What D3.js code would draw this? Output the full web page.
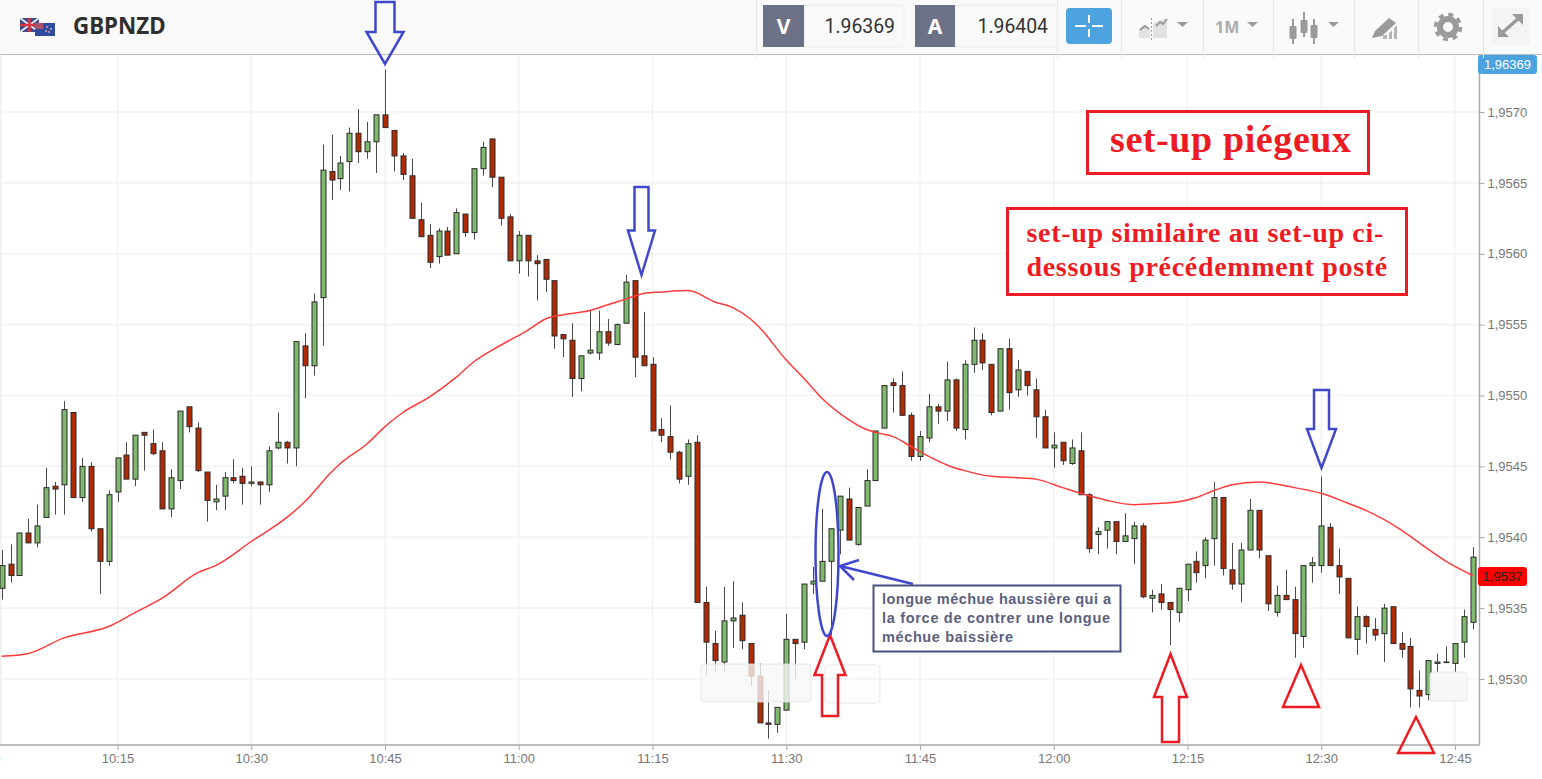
<!DOCTYPE html>
<html><head><meta charset="utf-8">
<script src="https://cdn.jsdelivr.net/npm/d3@7"></script>
<style>html,body{margin:0;padding:0;background:#fff;overflow:hidden}svg{display:block}</style>
</head><body><svg id="c" width="1542" height="779"></svg>
<script>
// Quotes in points (price x 100000), one candle per minute starting at 10:02
const opens=[195364,195381,195373,195403,195396,195414,195436,195437,195488,195428,195450,195406,195383,195432,195458,195441,195474,195466,195461,195420,195440,195492,195477,195446,195425,195429,195442,195443,195438,195439,195437,195463,195467,195463,195535,195521,195569,195658,195653,195665,195685,195672,195679,195698,195687,195669,195655,195624,195613,195598,195616,195600,195628,195615,195660,195681,195654,195626,195595,195613,195595,195596,195581,195543,195539,195512,195530,195530,195545,195536,195551,195581,195528,195522,195476,195471,195460,195443,195467,195354,195325,195312,195341,195345,195325,195302,195269,195268,195278,195328,195326,195367,195369,195383,195405,195427,195395,195422,195440,195477,195509,195507,195486,195457,195470,195492,195489,195511,195476,195522,195539,195522,195489,195533,195504,195517,195504,195485,195463,195467,195452,195461,195430,195402,195405,195411,195397,195399,195408,195357,195360,195354,195347,195363,195383,195380,195399,195428,195377,195367,195391,195419,195387,195347,195359,195356,195330,195380,195380,195407,195380,195371,195328,195344,195335,195332,195351,195325,195323,195292,195289,195311,195312,195311,195326,195340];
const highs=[195391,195395,195403,195413,195423,195449,195439,195496,195488,195456,195453,195406,195433,195456,195467,195472,195474,195476,195467,195448,195489,195492,195481,195446,195437,195446,195455,195449,195450,195439,195464,195488,195468,195538,195544,195572,195677,195684,195669,195689,195702,195693,195698,195730,195687,195671,195667,195636,195621,195618,195619,195632,195628,195660,195679,195681,195654,195628,195616,195613,195599,195596,195581,195543,195551,195528,195560,195560,195554,195551,195585,195581,195559,195527,195484,195493,195461,195469,195472,195365,195334,195365,195369,195354,195325,195311,195292,195280,195346,195328,195367,195379,195420,195406,195429,195435,195421,195448,195475,195507,195512,195517,195488,195475,195501,195494,195524,195512,195525,195548,195544,195522,195533,195540,195525,195517,195512,195490,195474,195467,195469,195474,195431,195407,195411,195411,195417,195411,195410,195363,195367,195354,195364,195381,195390,195400,195439,195428,195396,195396,195427,195419,195387,195366,195377,195365,195380,195386,195443,195410,195392,195371,195351,195345,195343,195353,195351,195333,195329,195306,195313,195318,195323,195325,195349,195393];
const lows=[195356,195368,195373,195396,195393,195414,195416,195416,195428,195425,195404,195360,195380,195425,195441,195436,195447,195458,195420,195414,195434,195474,195446,195411,195419,195419,195438,195423,195436,195423,195432,195462,195452,195450,195498,195514,195535,195638,195645,195644,195664,195667,195657,195689,195658,195652,195625,195612,195590,195593,195599,195600,195612,195610,195655,195647,195620,195595,195586,195584,195567,195573,195533,195527,195499,195503,195529,195525,195535,195536,195551,195513,195521,195475,195467,195455,195438,195437,195354,195302,195305,195305,195322,195321,195295,195269,195258,195262,195278,195300,195321,195360,195369,195331,195388,195398,195394,195422,195440,195477,195488,195486,195454,195454,195467,195480,195482,195475,195469,195516,195518,195486,195489,195490,195499,195500,195470,195463,195449,195451,195451,195430,195389,195388,195392,195388,195397,195381,195357,195347,195349,195324,195340,195355,195368,195371,195380,195373,195363,195354,195391,195385,195348,195344,195356,195315,195322,195368,195375,195380,195360,195329,195317,195325,195327,195312,195325,195315,195280,195280,195285,195305,195312,195305,195315,195335];
const closes=[195380,195373,195403,195396,195408,195435,195434,195490,195428,195450,195406,195383,195430,195456,195441,195472,195472,195459,195420,195442,195489,195478,195447,195426,195427,195442,195440,195438,195439,195437,195461,195467,195463,195538,195521,195566,195659,195652,195664,195685,195672,195679,195698,195689,195669,195656,195625,195612,195594,195616,195599,195629,195615,195660,195675,195654,195625,195595,195613,195595,195593,195582,195542,195540,195512,195528,195532,195545,195537,195550,195580,195527,195521,195475,195472,195460,195441,195466,195354,195326,195313,195341,195343,195327,195302,195269,195268,195280,195328,195325,195367,195369,195383,195406,195429,195398,195421,195440,195475,195507,195507,195486,195457,195471,195492,195489,195511,195477,195522,195539,195523,195488,195533,195502,195518,195507,195485,195463,195465,195454,195463,195430,195392,195404,195411,195397,195401,195408,195358,195359,195354,195349,195364,195381,195375,195398,195428,195378,195367,195391,195419,195391,195353,195359,195356,195332,195380,195382,195408,195380,195372,195329,195344,195337,195331,195350,195325,195321,195293,195288,195313,195312,195312,195325,195344,195386];
// Moving average, read at selected candles
const maMinutes=[0,3,7,12,15,18,22,24,28,32,34,37,38,41,43,45,48,51,53,55,57,59,61,63,66,68,70,72,74,77,80,82,84,85,88,90,92,95,97,98,100,102,104,106,108,111,114,116,119,121,124,127,130,132,134,136,138,141,145,148,151,153,157,159,162,165];
const maPoints=[195316,195318,195329,195337,195347,195357,195375,195380,195397,195414,195425,195446,195452,195466,195478,195488,195499,195513,195524,195532,195539,195546,195554,195557,195560,195564,195568,195572,195573,195574,195566,195562,195554,195548,195525,195512,195498,195483,195476,195474,195471,195464,195457,195451,195447,195443,195442,195441,195435,195431,195426,195423,195424,195425,195428,195433,195437,195439,195435,195431,195424,195419,195405,195396,195383,195373];
const priceTicks=[1.9530,1.9535,1.9540,1.9545,1.9550,1.9555,1.9560,1.9565,1.9570];
const timeTicks=["10:00","10:15","10:30","10:45","11:00","11:15","11:30","11:45","12:00","12:15","12:30","12:45"];
const symbol="GBPNZD",bid="1.96369",ask="1.96404",chartPrice="1,96369",lastPrice="1,9537";
const note=["longue méchue haussière qui a","la force de contrer une longue","méchue baissière"];
const title="set-up piégeux";
const sub=["set-up similaire au set-up ci-","dessous précédemment posté"];

const svg=d3.select("#c");
const parse=d3.timeParse("%H:%M");
const t0=parse("10:02");
const at=m=>d3.timeMinute.offset(t0,m);
const x=d3.scaleTime().domain([parse("10:15"),parse("12:45")]).range([117.5,1455]);
const y=d3.scaleLinear().domain([1.9530,1.9570]).range([679,112]);
const py=v=>y(v/1e5);
const plotR=1479.5,plotB=745,plotT=55;

// grid
const grid=svg.append("g");
grid.selectAll(".h").data(priceTicks).join("line").attr("x1",0).attr("x2",plotR).attr("y1",d=>y(d)).attr("y2",d=>y(d)).attr("stroke","#f3f3f3").attr("stroke-width",1.6);
grid.selectAll(".v").data(timeTicks).join("line").attr("x1",d=>x(parse(d))).attr("x2",d=>x(parse(d))).attr("y1",plotT).attr("y2",plotB).attr("stroke","#f0f0f0").attr("stroke-width",1.2);
svg.append("rect").attr("x",0).attr("y",plotT).attr("width",2).attr("height",plotB-plotT).attr("fill","#f2f2f2");

// axes
const ax=svg.append("g").attr("transform",`translate(0,${plotB})`).call(d3.axisBottom(x).tickValues(timeTicks.map(parse)).tickFormat(d3.timeFormat("%H:%M")).tickSize(5).tickPadding(4));
const ay=svg.append("g").attr("transform",`translate(${plotR},0)`).call(d3.axisRight(y).tickValues(priceTicks).tickFormat(d=>d3.format(".4f")(d).replace(".",",")).tickSize(5).tickPadding(3));
[ax,ay].forEach(a=>{a.selectAll("text").attr("font-family","Liberation Sans").attr("font-size",13).attr("fill","#777");a.selectAll("line").attr("stroke","#aaa");a.select(".domain").attr("stroke","#aaa").attr("stroke-width",1.5);});
ax.select(".domain").attr("d",`M0,0H${plotR}`);
ay.select(".domain").attr("d",`M0,${plotT}V${plotB}`);

// candles
const idx=d3.range(opens.length);
const cg=svg.append("g").selectAll("g").data(idx).join("g");
const cx=i=>Math.round(x(at(i)));
cg.append("line").attr("x1",i=>cx(i)+.5).attr("x2",i=>cx(i)+.5).attr("y1",i=>py(highs[i])).attr("y2",i=>py(lows[i])).attr("stroke","#4a4a4a").attr("stroke-width",1);
cg.append("rect").attr("x",i=>cx(i)-2).attr("width",5)
 .attr("y",i=>Math.min(py(opens[i]),py(closes[i])))
 .attr("height",i=>Math.max(.6,Math.abs(py(opens[i])-py(closes[i]))))
 .attr("fill",i=>closes[i]>=opens[i]?"#7fb96d":"#b02a04").attr("stroke","#2b2b2b").attr("stroke-width",1);

// moving average
svg.append("path").datum(maMinutes.map((m,i)=>[m,maPoints[i]]))
 .attr("d",d3.line().x(d=>x(at(d[0]))).y(d=>py(d[1])).curve(d3.curveMonotoneX))
 .attr("fill","none").attr("stroke","#ff3b3b").attr("stroke-width",1.5);

// faint overlays
[[701,664,110,38,.8],[825,665,55,38,.25],[1430,672,37,29,.95]].forEach(r=>svg.append("rect").attr("x",r[0]).attr("y",r[1]).attr("width",r[2]).attr("height",r[3]).attr("rx",3).attr("fill","#f8f8f8").attr("fill-opacity",r[4]).attr("stroke","#e2e2e2").attr("stroke-opacity",.8));

// price tags
const tag=(xx,yy,w,h,f,t,c,fs)=>{svg.append("rect").attr("x",xx).attr("y",yy).attr("width",w).attr("height",h).attr("rx",3).attr("fill",f);
 svg.append("text").attr("x",xx+w/2).attr("y",yy+h/2+4.5).attr("text-anchor","middle").attr("font-family","Liberation Sans").attr("font-size",fs).attr("fill",c).text(t);};
tag(1478,55,59,19,"#4aa3df",chartPrice,"#fff",13);
tag(1478,567,49,19,"#ff0000",lastPrice,"#222",13);

// toolbar
svg.append("rect").attr("width",1542).attr("height",54).attr("fill","#fafafa");
svg.append("line").attr("x1",0).attr("x2",1542).attr("y1",54.5).attr("y2",54.5).attr("stroke","#bdbdbd");
[756,1057,1121,1203,1273,1354,1418,1483].forEach(v=>svg.append("line").attr("x1",v+.5).attr("x2",v+.5).attr("y1",0).attr("y2",58).attr("stroke","#e6e6e6"));
// flags
const fl=svg.append("g");
fl.append("rect").attr("x",20).attr("y",18).attr("width",19).attr("height",14).attr("fill","#3a4a8c");
fl.append("path").attr("d","M20,18L39,32M39,18L20,32").attr("stroke","#e8e8f0").attr("stroke-width",2);
fl.append("path").attr("d","M29.5,18V32M20,25H39").attr("stroke","#d8343c").attr("stroke-width",2.5);
fl.append("rect").attr("x",35).attr("y",23).attr("width",20).attr("height",13).attr("fill","#2f4da0");
fl.append("rect").attr("x",35).attr("y",23).attr("width",8).attr("height",6).attr("fill","#a9536e");
[[47,27],[51,29],[49,32],[46,31]].forEach(p=>fl.append("circle").attr("cx",p[0]).attr("cy",p[1]).attr("r",1).attr("fill","#e8a0a8"));
svg.append("text").attr("x",73).attr("y",34).attr("font-family","Noto Sans").attr("font-weight",700).attr("font-size",22.4).attr("fill","#2f2f2f").text(symbol);
[[763,804,904,"V",bid],[915,955,1057,"A",ask]].forEach(b=>{
 svg.append("rect").attr("x",b[1]).attr("y",5).attr("width",b[2]-b[1]).attr("height",42).attr("rx",3).attr("fill","#f9f9f9").attr("stroke","#eee");
 svg.append("rect").attr("x",b[0]).attr("y",5).attr("width",b[1]-b[0]).attr("height",42).attr("fill","#6c7186");
 svg.append("text").attr("x",(b[0]+b[1])/2).attr("y",34).attr("text-anchor","middle").attr("font-family","Noto Sans").attr("font-weight",700).attr("font-size",21).attr("fill","#fff").text(b[3]);
 svg.append("text").attr("x",b[2]-9).attr("y",33).attr("text-anchor","end").attr("font-family","Roboto").attr("font-size",19.4).attr("fill","#333").text(b[4]);
});
svg.append("rect").attr("x",1066).attr("y",8).attr("width",46).attr("height",36).attr("rx",4).attr("fill","#4ca3e0");
svg.append("path").attr("d","M1089,15V23M1089,29V37M1075,26H1086M1092,26H1103").attr("stroke","#fff").attr("stroke-width",2);
// icons
const gi="#9a9a9a";
svg.append("path").attr("d","M1139,38V29L1144,25L1150,29V38ZM1153,38V23L1167,18V38Z").attr("fill","#e2e2e2");
svg.append("path").attr("d","M1140,30L1145,26L1149,29M1156,26L1160,22L1163,24L1167,19").attr("fill","none").attr("stroke",gi).attr("stroke-width",2);
svg.append("path").attr("d","M1151.5,18V41").attr("stroke",gi).attr("stroke-dasharray","2 2");
[[1177,22],[1247,22],[1328,22]].forEach(p=>svg.append("path").attr("d",`M${p[0]},${p[1]}h11l-5.500,5z`).attr("fill",gi));
svg.append("text").attr("x",1215).attr("y",33).attr("font-family","Noto Sans").attr("font-weight",700).attr("font-size",16).attr("fill","#aaa").text("1M");
[[1293,26,39,19,44],[1304,20,33,12,37],[1314,25,38,19,44]].forEach(c=>{svg.append("line").attr("x1",c[0]).attr("x2",c[0]).attr("y1",c[3]).attr("y2",c[4]).attr("stroke",gi).attr("stroke-width",2);
 svg.append("rect").attr("x",c[0]-3.500).attr("y",c[1]).attr("width",7).attr("height",c[2]-c[1]).attr("rx",1).attr("fill",gi);});
svg.append("path").attr("d","M1372,38L1375,31L1389,18L1396,23L1382,36Z").attr("fill",gi);
svg.append("path").attr("d","M1383,39h4v-4h-4zM1389,39h3v-9l-3,3zM1394,39h3v-14l-3,3z").attr("fill","#b5b5b5");
svg.append("rect").attr("x",1492).attr("y",8).attr("width",38).attr("height",37).attr("fill","#f4f4f4");
svg.append("circle").attr("cx",1448).attr("cy",27).attr("r",8).attr("fill","none").attr("stroke",gi).attr("stroke-width",6);
svg.append("circle").attr("cx",1448).attr("cy",27).attr("r",12.500).attr("fill","none").attr("stroke",gi).attr("stroke-width",3.5).attr("stroke-dasharray","4.900 4.900");
svg.append("path").attr("d","M1502,33L1519,18").attr("stroke",gi).attr("stroke-width",3.5);
svg.append("path").attr("d","M1498,37v-11l11,11zM1523,14v11l-11,-11z").attr("fill",gi);

// hand annotations
const blue="#3f48cc",red="#ed1c24";
const outline=(d,c)=>svg.append("path").attr("d",d).attr("fill","none").attr("stroke",c).attr("stroke-width",2.5).attr("stroke-linejoin","miter");
const down=(cx0,sw,hw,top,neck,tip)=>`M${cx0-sw},${top}H${cx0+sw}V${neck}H${cx0+hw}L${cx0},${tip}L${cx0-hw},${neck}H${cx0-sw}Z`;
const up=(cx0,sw,hw,tip,neck,bot)=>`M${cx0},${tip}L${cx0+hw},${neck}H${cx0+sw}V${bot}H${cx0-sw}V${neck}H${cx0-hw}Z`;
outline(down(385,9.500,18.500,2,32,64),blue);
outline(down(641.5,7,13.500,187,230.500,275),blue);
outline(down(1321.5,7.500,14.500,390,429,468),blue);
outline(up(830,8,15.500,635,675,716),red);
outline(up(1170.5,8.500,16.500,654,697,742),red);
outline("M1301,665L1319,707H1283Z",red);
outline("M1416,717L1434,753H1398Z",red);
svg.append("ellipse").attr("cx",827).attr("cy",554).attr("rx",11.500).attr("ry",82).attr("fill","none").attr("stroke",blue).attr("stroke-width",2.500);
outline("M913,584L840,566M859,560L840,566L854,580",blue);

// note box
svg.append("rect").attr("x",873.5).attr("y",585.5).attr("width",247).attr("height",66).attr("fill","#fff").attr("stroke","#4a5080").attr("stroke-width",2);
const noteWidths=[229,228,131];
note.forEach((t,i)=>svg.append("text").attr("x",882).attr("y",604+i*18.9).attr("font-family","Liberation Sans").attr("font-weight",700).attr("font-size",14.5).attr("textLength",noteWidths[i]).attr("fill","#5a5f80").text(t));

// title boxes
svg.append("rect").attr("x",1087.5).attr("y",111.5).attr("width",281).attr("height",62).attr("fill","#fff").attr("stroke",red).attr("stroke-width",3);
svg.append("text").attr("x",1110).attr("y",152).attr("font-family","Liberation Serif").attr("font-weight",700).attr("font-size",38).attr("letter-spacing",.6).attr("fill",red).text(title);
svg.append("rect").attr("x",1007.5).attr("y",208.5).attr("width",399).attr("height",86).attr("fill","#fff").attr("stroke",red).attr("stroke-width",3);
sub.forEach((t,i)=>svg.append("text").attr("x",1026.5).attr("y",242+i*34).attr("font-family","Liberation Serif").attr("font-weight",700).attr("font-size",28).attr("letter-spacing",.68).attr("fill",red).text(t));
</script></body></html>
